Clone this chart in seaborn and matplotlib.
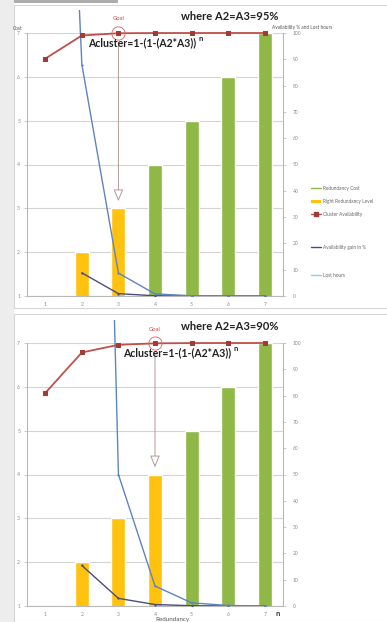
import numpy as np
import pandas as pd
import matplotlib
matplotlib.use("Agg")
import matplotlib.pyplot as plt
import seaborn as sns
from matplotlib.lines import Line2D
from matplotlib.patches import Patch, Rectangle
from matplotlib.transforms import Bbox, TransformedBbox

# ---- data -------------------------------------------------------------
levels = ["1", "2", "3", "4", "5", "6", "7"]
left_ticks = [1, 2, 3, 4, 5, 6, 7]
right_ticks = [0, 10, 20, 30, 40, 50, 60, 70, 80, 90, 100]

# A2 = A3 = 95 %
top_level_bars = [1, 2, 3, np.nan, np.nan, np.nan, np.nan]
top_cost_bars = [np.nan, np.nan, np.nan, 4, 5, 6, 7]
top_availability = [90.25, 99.05, 99.91, 99.99, 100.0, 100.0, 100.0]
top_gain = [np.nan, 8.8, 0.9, 0.08, 0.01, 0.0, 0.0]
top_lost_hours = [400, 88, 8.7, 0.8, 0.1, 0.0, 0.0]
top_goal = "3"

# A2 = A3 = 90 %
bot_level_bars = [1, 2, 3, 4, np.nan, np.nan, np.nan]
bot_cost_bars = [np.nan, np.nan, np.nan, np.nan, 5, 6, 7]
bot_availability = [81.0, 96.39, 99.31, 99.87, 99.98, 100.0, 100.0]
bot_gain = [np.nan, 15.4, 2.9, 0.56, 0.1, 0.02, 0.0]
bot_lost_hours = [1660, 590, 50, 7.6, 1.2, 0.2, 0.0]
bot_goal = "4"

series_names = ["Redundancy Cost", "Right Redundancy Level", "Cluster Availability",
                "Availability gain in %", "Lost hours"]

GREEN = "#8fb846"
YELLOW = "#ffc20e"
RED = "#c0504d"
RED_MARK = "#a23a36"
DARK = "#4a4c7e"
LIGHT = "#5f84c2"
GRID = "#d4d4d4"
AXIS = "#b8b8b8"
TICK = "#8a8a8a"

sns.set_theme(style="white")
plt.rcParams["font.family"] = ["Lato", "DejaVu Sans"]

W, H = 387, 622
fig = plt.figure(figsize=(W / 100, H / 100), dpi=100)
fig.patch.set_facecolor("white")


def fx(px):
    return px / W


def fy(py):
    return 1 - py / H


# page background: grey margin on the left and light frames around each chart
fig.patches.append(Rectangle((0, 0), fx(14), 1, transform=fig.transFigure,
                             facecolor="#ededed", edgecolor="none", zorder=-5))
fig.patches.append(Rectangle((fx(14), fy(308)), 1, fy(5) - fy(308), transform=fig.transFigure,
                             facecolor="white", edgecolor="#d6d6d6", lw=0.8, zorder=-4))
fig.patches.append(Rectangle((fx(14), fy(622)), 1, fy(314) - fy(622), transform=fig.transFigure,
                             facecolor="white", edgecolor="#d6d6d6", lw=0.8, zorder=-4))
fig.patches.append(Rectangle((fx(14), fy(3)), fx(118) - fx(14), fy(0) - fy(3), transform=fig.transFigure,
                             facecolor="#8a8a8a", edgecolor="none", alpha=0.7, zorder=-3))


def draw_panel(top_px, bars_level, bars_cost, availability, gain, lost, goal,
               where_text, clip_top_px, formula_left_px):
    left_px, right_px = 27, 283
    bottom_px = top_px + 263
    ax = fig.add_axes([fx(left_px), fy(bottom_px), fx(right_px) - fx(left_px),
                       fy(top_px) - fy(bottom_px)])

    df = pd.DataFrame({
        "n": levels * 2,
        "value": list(bars_level) + list(bars_cost),
        "series": [series_names[1]] * len(levels) + [series_names[0]] * len(levels),
    }).dropna()
    sns.barplot(data=df, x="n", y="value", hue="series", order=levels,
                hue_order=[series_names[1], series_names[0]],
                palette={series_names[1]: YELLOW, series_names[0]: GREEN},
                dodge=False, width=0.38, saturation=1, errorbar=None,
                legend=False, ax=ax, zorder=2)

    ax.set_ylim(1, 7)
    ax.set_yticks(left_ticks)
    ax.yaxis.grid(True, color=GRID, lw=0.8)
    ax.set_axisbelow(True)
    ax.set_xlabel("")
    ax.set_ylabel("")
    for s in ["top", "right"]:
        ax.spines[s].set_visible(False)
    for s in ["left", "bottom"]:
        ax.spines[s].set_color(AXIS)
        ax.spines[s].set_linewidth(0.8)
    ax.tick_params(axis="y", length=2, width=0.5, color=AXIS, labelcolor=TICK,
                   labelsize=3.6, pad=3, left=True)
    ax.tick_params(axis="x", length=0, labelcolor=TICK, labelsize=3.6, pad=4)

    ax2 = ax.twinx()
    pos = np.arange(len(levels))
    sns.lineplot(x=pos, y=gain, ax=ax2, color=DARK, lw=1.0, marker="o",
                 markersize=1.6, markeredgewidth=0, zorder=3)
    sns.lineplot(x=pos, y=lost, ax=ax2, color=LIGHT, lw=1.0, marker="o",
                 markersize=1.6, markeredgewidth=0, zorder=3)
    lost_line = ax2.lines[-1]
    sns.lineplot(x=pos, y=availability, ax=ax2, color=RED, lw=1.3, marker="s",
                 markersize=3.4, markerfacecolor=RED_MARK, markeredgecolor=RED_MARK,
                 clip_on=False, zorder=4)

    # lost-hours line may run above the plot area, up to the chart frame
    lost_line.set_clip_box(TransformedBbox(
        Bbox([[fx(left_px), fy(bottom_px)], [fx(right_px), fy(clip_top_px)]]),
        fig.transFigure))

    ax2.set_ylim(0, 100)
    ax2.set_yticks(right_ticks)
    ax2.grid(False)
    for s in ["top", "left", "bottom"]:
        ax2.spines[s].set_visible(False)
    ax2.spines["right"].set_color(AXIS)
    ax2.spines["right"].set_linewidth(0.8)
    ax2.tick_params(axis="y", length=2, width=0.5, color=AXIS, labelcolor=TICK,
                    labelsize=3.6, pad=5, right=True)
    ax.set_xlim(-0.5, len(levels) - 0.5)

    # goal marker, caption and arrow to the matching bar
    gi = levels.index(goal)
    gv = availability[gi]
    ax2.plot([gi], [gv], marker="o", markersize=9.5, markerfacecolor="none",
             markeredgecolor="#e06060", markeredgewidth=0.6, clip_on=False, zorder=5)
    ax2.annotate("Goal", xy=(gi, gv), xytext=(0, 8.5), textcoords="offset points",
                 ha="center", va="bottom", color="#d04848", fontsize=4.2,
                 annotation_clip=False)
    bar_top = bars_level[gi]
    ax.annotate("", xy=(gi, bar_top + 0.1), xytext=(gi, 6.83),
                arrowprops=dict(arrowstyle="-|>,head_length=0.6,head_width=0.25",
                                color="#b59a9a", lw=0.7, fc="white"),
                annotation_clip=False, zorder=6)

    # formulas
    fig.text(fx(230), fy(top_px - 17), where_text, ha="center", va="center",
             fontsize=8, fontweight="bold", color="#222222")
    formula = fig.text(fx(formula_left_px), fy(top_px + 10),
                       "Acluster=1-(1-(A2*A3))", ha="left", va="center",
                       fontsize=7.6, fontweight="bold", color="#222222")
    ax.annotate("n", xy=(1, 0.95), xycoords=formula, xytext=(1.5, 0),
                textcoords="offset points", ha="left", va="center",
                fontsize=5.5, fontweight="bold", color="#222222")
    return ax, ax2


ax_top, ax2_top = draw_panel(33, top_level_bars, top_cost_bars, top_availability,
                             top_gain, top_lost_hours, top_goal,
                             "where A2=A3=95%", 10, 88)
ax_bot, ax2_bot = draw_panel(343, bot_level_bars, bot_cost_bars, bot_availability,
                             bot_gain, bot_lost_hours, bot_goal,
                             "where A2=A3=90%", 320, 123)

# axis captions
fig.text(fx(13), fy(28), "Cost", fontsize=3.4, color="#555555", ha="left", va="center")
fig.text(fx(272), fy(27), "Availability % and Lost hours", fontsize=3.4,
         color="#555555", ha="left", va="center")
fig.text(fx(172), fy(617), "Redundancy", fontsize=4.5, color="#555555",
         ha="center", va="top")
fig.text(fx(278), fy(614), "n", fontsize=5.5, fontweight="bold", color="#333333",
         ha="center", va="center")

# legend of the upper chart
handles_a = [Line2D([], [], color=GREEN, lw=1.0),
             Patch(facecolor=YELLOW, edgecolor="none"),
             Line2D([], [], color=RED, lw=1.0, marker="s", markersize=2.2,
                    markerfacecolor=RED_MARK, markeredgecolor=RED_MARK)]
handles_b = [Line2D([], [], color=DARK, lw=1.0),
             Line2D([], [], color="#8fd0e0", lw=1.0)]
leg_a = fig.legend(handles_a, series_names[:3], loc="upper left",
                   bbox_to_anchor=(fx(309), fy(184)), frameon=False, fontsize=3.4,
                   handlelength=2.2, handletextpad=0.3, labelspacing=1.7,
                   labelcolor="#666666", borderaxespad=0)
leg_b = fig.legend(handles_b, series_names[3:], loc="upper left",
                   bbox_to_anchor=(fx(309), fy(243)), frameon=False, fontsize=3.4,
                   handlelength=2.2, handletextpad=0.3, labelspacing=4.9,
                   labelcolor="#666666", borderaxespad=0)

fig.savefig("out.png", dpi=100)
